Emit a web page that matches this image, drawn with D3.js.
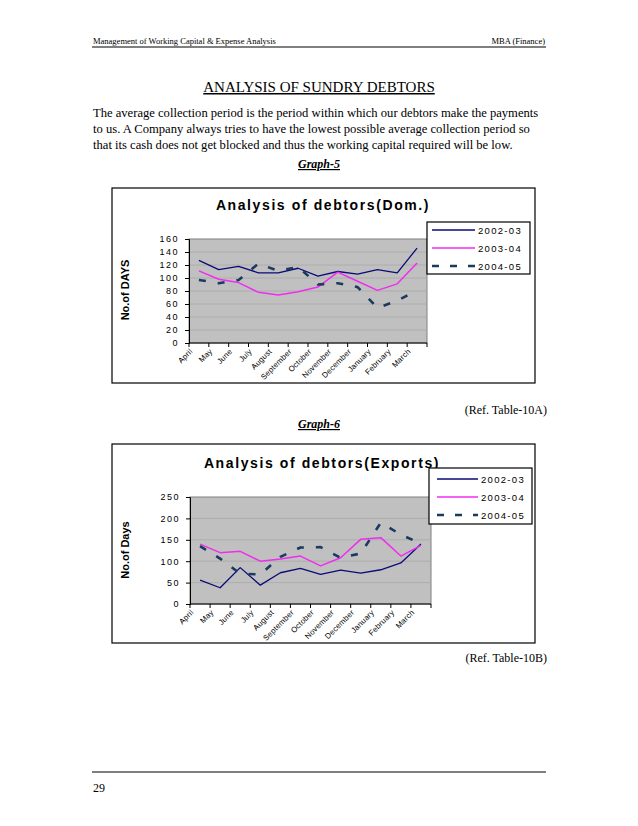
<!DOCTYPE html>
<html>
<head>
<meta charset="utf-8">
<script src="https://cdn.jsdelivr.net/npm/d3@7/dist/d3.min.js"></script>
<style>
  body { margin: 0; background: #fff; }
  svg { display: block; }
  .doc { font-family: "Liberation Serif", "Times New Roman", serif; fill: #000; }
  .ch { font-family: "Liberation Sans", Arial, sans-serif; fill: #000; }
</style>
</head>
<body>
<svg id="page" width="638" height="826"></svg>
<script>
// months on the x axis (both graphs)
const months = ['April', 'May', 'June', 'July', 'August', 'September', 'October',
  'November', 'December', 'January', 'February', 'March'];
const seriesNames = ['2002-03', '2003-04', '2004-05'];

// Graph-5 : domestic debtors, no. of days
const dom0203 = [127, 113, 118, 108, 108, 115, 103, 110, 106, 113, 108, 146];
const dom0304 = [111, 98, 93, 78, 74, 79, 86, 109, 95, 81, 91, 123];
const dom0405 = [97, 92, 97, 122, 111, 117, 90, 92, 86, 54, 65, 81];
const domTicks = [0, 20, 40, 60, 80, 100, 120, 140, 160];

// Graph-6 : export debtors, no. of days
const exp0203 = [56, 38, 85, 44, 73, 83, 69, 79, 72, 80, 96, 140];
const exp0304 = [140, 120, 123, 100, 105, 112, 89, 108, 151, 155, 112, 137];
const exp0405 = [135, 106, 71, 69, 110, 132, 133, 108, 118, 190, 162, 141];
const expTicks = [0, 50, 100, 150, 200, 250];

const paragraph = [
  'The average collection period is the period within which our debtors make the payments',
  'to us. A Company always tries to have the lowest possible average collection period so',
  'that its cash does not get blocked and thus the working capital required will be low.'
];

const svg = d3.select('#page');

// ---- page text ----
svg.append('text').attr('class', 'doc').attr('x', 93).attr('y', 44)
  .style('font-size', '8.5px').text('Management of Working Capital & Expense Analysis');
svg.append('text').attr('class', 'doc').attr('x', 545).attr('y', 44)
  .attr('text-anchor', 'end').style('font-size', '8.5px').text('MBA (Finance)');
svg.append('line').attr('x1', 92).attr('x2', 546).attr('y1', 47).attr('y2', 47)
  .attr('stroke', '#000').attr('stroke-width', 1.2);

svg.append('text').attr('class', 'doc').attr('x', 319).attr('y', 92)
  .attr('text-anchor', 'middle').style('font-size', '15px')
  .style('text-decoration', 'underline').text('ANALYSIS OF SUNDRY DEBTORS');

svg.selectAll('text.para').data(paragraph).enter().append('text')
  .attr('class', 'doc para')
  .attr('x', 93)
  .attr('y', (d, i) => 117 + i * 16)
  .style('font-size', '12.6px')
  .text(d => d);

function caption(txt, y) {
  svg.append('text').attr('class', 'doc').attr('x', 319).attr('y', y)
    .attr('text-anchor', 'middle')
    .style('font-size', '12px').style('font-weight', 'bold').style('font-style', 'italic')
    .style('text-decoration', 'underline').text(txt);
}
caption('Graph-5', 168);
caption('Graph-6', 428);

svg.append('text').attr('class', 'doc').attr('x', 547).attr('y', 414)
  .attr('text-anchor', 'end').style('font-size', '12px').text('(Ref. Table-10A)');
svg.append('text').attr('class', 'doc').attr('x', 547).attr('y', 662)
  .attr('text-anchor', 'end').style('font-size', '12px').text('(Ref. Table-10B)');

svg.append('line').attr('x1', 92).attr('x2', 546).attr('y1', 772).attr('y2', 772)
  .attr('stroke', '#000').attr('stroke-width', 1.2);
svg.append('text').attr('class', 'doc').attr('x', 93).attr('y', 792)
  .style('font-size', '12px').text('29');

// ---- charts ----
const lineStyles = [
  { color: '#0a0a78', width: 1.3, dash: null },
  { color: '#f02cf0', width: 1.5, dash: null },
  { color: '#1b3a5e', width: 2.6, dash: '7,12' }
];

function drawChart(cfg) {
  const g = svg.append('g');

  g.append('rect')
    .attr('x', cfg.box[0]).attr('y', cfg.box[1])
    .attr('width', cfg.box[2] - cfg.box[0]).attr('height', cfg.box[3] - cfg.box[1])
    .attr('fill', '#fff').attr('stroke', '#000').attr('stroke-width', 1.2);

  g.append('text').attr('class', 'ch')
    .attr('x', cfg.titleX).attr('y', cfg.titleY)
    .attr('text-anchor', 'middle')
    .style('font-size', '14px').style('font-weight', 'bold').style('letter-spacing', '1.6px')
    .text(cfg.title);

  const x = d3.scaleBand().domain(months).range([cfg.plot[0], cfg.plot[2]]);
  const y = d3.scaleLinear().domain([0, d3.max(cfg.ticks)]).range([cfg.plot[3], cfg.plot[1]]);

  // plot area
  g.append('rect')
    .attr('x', cfg.plot[0]).attr('y', cfg.plot[1])
    .attr('width', cfg.plot[2] - cfg.plot[0]).attr('height', cfg.plot[3] - cfg.plot[1])
    .attr('fill', '#c0c0c0').attr('stroke', '#808080').attr('stroke-width', 1);

  g.selectAll('line.grid').data(cfg.ticks.slice(1, -1)).enter().append('line')
    .attr('x1', cfg.plot[0]).attr('x2', cfg.plot[2])
    .attr('y1', d => y(d)).attr('y2', d => y(d))
    .attr('stroke', '#a8a8a8').attr('stroke-width', 0.8);

  // y axis
  const yAxis = g.append('g')
    .attr('transform', 'translate(' + cfg.plot[0] + ',0)')
    .call(d3.axisLeft(y).tickValues(cfg.ticks).tickSize(4).tickPadding(6));
  yAxis.select('.domain').attr('stroke', '#000');
  yAxis.selectAll('line').attr('stroke', '#000');
  yAxis.selectAll('text')
    .attr('class', 'ch').attr('fill', '#000')
    .style('font-size', '9px').style('letter-spacing', '1.5px')
    .style('font-family', '"Liberation Sans", Arial, sans-serif');

  // x axis: ticks on band edges
  const edges = months.map(m => x(m)).concat([cfg.plot[2]]);
  g.append('line')
    .attr('x1', cfg.plot[0]).attr('x2', cfg.plot[2])
    .attr('y1', cfg.plot[3]).attr('y2', cfg.plot[3])
    .attr('stroke', '#000');
  g.selectAll('line.xt').data(edges).enter().append('line')
    .attr('x1', d => d).attr('x2', d => d)
    .attr('y1', cfg.plot[3]).attr('y2', cfg.plot[3] + 4)
    .attr('stroke', '#000');
  g.selectAll('text.xl').data(months).enter().append('text')
    .attr('class', 'ch xl')
    .attr('text-anchor', 'end')
    .attr('transform', d => 'translate(' + (x(d) + 4) + ',' + (cfg.plot[3] + 9) + ') rotate(-45)')
    .style('font-size', '7.8px').style('letter-spacing', '0.2px')
    .attr('fill', '#111')
    .text(d => d);

  // y axis title
  g.append('text').attr('class', 'ch')
    .attr('transform', 'translate(' + cfg.yTitleX + ',' + cfg.yTitleY + ') rotate(-90)')
    .attr('text-anchor', 'middle')
    .style('font-size', '11px').style('font-weight', 'bold')
    .text(cfg.yTitle);

  // series lines
  const line = d3.line()
    .x((d, i) => x(months[i]) + x.bandwidth() / 2)
    .y(d => y(d));

  cfg.series.forEach((vals, k) => {
    const st = lineStyles[k];
    g.append('path')
      .attr('d', line(vals))
      .attr('fill', 'none')
      .attr('stroke', st.color)
      .attr('stroke-width', st.width)
      .attr('stroke-dasharray', st.dash)
      .attr('stroke-linejoin', 'round');
  });

  // legend
  const L = cfg.legend;
  g.append('rect')
    .attr('x', L.box[0]).attr('y', L.box[1])
    .attr('width', L.box[2] - L.box[0]).attr('height', L.box[3] - L.box[1])
    .attr('fill', '#fff').attr('stroke', '#000').attr('stroke-width', 1.2);
  seriesNames.forEach((name, k) => {
    const st = lineStyles[k];
    const yy = L.rows[k];
    g.append('line')
      .attr('x1', L.lineX[0]).attr('x2', L.lineX[1])
      .attr('y1', yy).attr('y2', yy)
      .attr('stroke', st.color)
      .attr('stroke-width', k === 2 ? 2.6 : st.width)
      .attr('stroke-dasharray', k === 2 ? '7,11' : null);
    g.append('text').attr('class', 'ch')
      .attr('x', L.lineX[1] + 3).attr('y', yy + 3.5)
      .style('font-size', '9.5px').style('letter-spacing', '1.3px')
      .text(name);
  });
}

drawChart({
  box: [112, 188, 535, 383],
  title: 'Analysis of debtors(Dom.)',
  titleX: 323, titleY: 210,
  plot: [189, 239, 427, 343],
  ticks: domTicks,
  yTitle: 'No.of DAYS', yTitleX: 129, yTitleY: 290,
  series: [dom0203, dom0304, dom0405],
  legend: { box: [427, 222, 530, 274], rows: [230, 248, 266], lineX: [432, 475] }
});

drawChart({
  box: [112, 444, 535, 643],
  title: 'Analysis of debtors(Exports)',
  titleX: 322, titleY: 468,
  plot: [190, 497, 431, 604],
  ticks: expTicks,
  yTitle: 'No.of Days', yTitleX: 129, yTitleY: 550,
  series: [exp0203, exp0304, exp0405],
  legend: { box: [429, 468, 532, 524], rows: [479, 497, 515], lineX: [437, 478] }
});
</script>
</body>
</html>
